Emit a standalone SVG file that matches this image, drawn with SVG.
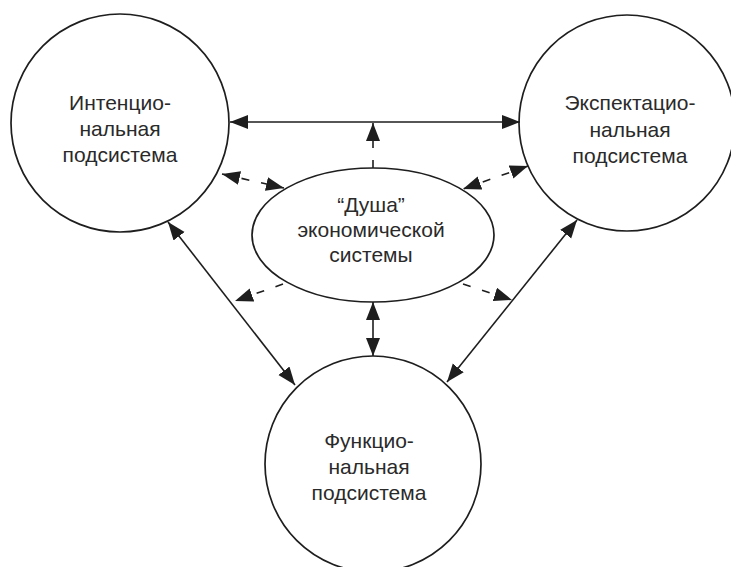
<svg xmlns="http://www.w3.org/2000/svg" width="731" height="567" viewBox="0 0 731 567">
<style>
.node{fill:#fff;stroke:#1e1e1e;stroke-width:1.7}
.lbl{font-family:"Liberation Sans",Arial,sans-serif;font-size:21px;fill:#2a2a2a;text-anchor:middle}
.conn{stroke:#1e1e1e;stroke-width:1.6;fill:none}
.dash{stroke-dasharray:8 12}
</style>
<defs>
<marker id="ah" markerUnits="userSpaceOnUse" markerWidth="19" markerHeight="15" refX="18" refY="7" orient="auto-start-reverse" viewBox="0 0 19 15">
<path d="M0,0 L18,7 L0,14 z" fill="#1e1e1e"/>
</marker>
</defs>
<rect width="731" height="567" fill="#fff"/>
<g id="intent">
<circle class="node" cx="120" cy="123" r="109"/>
<text class="lbl" x="120" y="110">Интенцио-</text>
<text class="lbl" x="120" y="136">нальная</text>
<text class="lbl" x="120" y="162">подсистема</text>
</g>
<g id="expect">
<circle class="node" cx="627" cy="123" r="108"/>
<text class="lbl" x="630" y="110">Экспектацио-</text>
<text class="lbl" x="630" y="137">нальная</text>
<text class="lbl" x="630" y="163">подсистема</text>
</g>
<g id="func">
<circle class="node" cx="373" cy="464" r="108"/>
<text class="lbl" x="369" y="448">Функцио-</text>
<text class="lbl" x="369" y="474">нальная</text>
<text class="lbl" x="369" y="500">подсистема</text>
</g>
<g id="soul">
<ellipse class="node" cx="373" cy="235" rx="121" ry="67"/>
<text class="lbl" x="371" y="212">“Душа”</text>
<text class="lbl" x="371" y="237">экономической</text>
<text class="lbl" x="371" y="262">системы</text>
</g>
<g id="connectors">
<line class="conn" x1="230" y1="122" x2="520" y2="122" marker-start="url(#ah)" marker-end="url(#ah)"/>
<line class="conn" x1="168" y1="222" x2="295" y2="385" marker-start="url(#ah)" marker-end="url(#ah)"/>
<line class="conn" x1="577" y1="220" x2="447" y2="382" marker-start="url(#ah)" marker-end="url(#ah)"/>
<line class="conn" x1="373" y1="302" x2="373" y2="356" marker-start="url(#ah)" marker-end="url(#ah)"/>
<line class="conn dash" x1="373" y1="168" x2="373" y2="123" marker-end="url(#ah)"/>
<line class="conn dash" x1="222" y1="174" x2="284" y2="188" marker-start="url(#ah)" marker-end="url(#ah)"/>
<line class="conn dash" x1="528" y1="166" x2="463" y2="189" marker-start="url(#ah)" marker-end="url(#ah)"/>
<line class="conn dash" x1="283" y1="284" x2="235" y2="301" marker-end="url(#ah)"/>
<line class="conn dash" x1="463" y1="284" x2="512" y2="300" marker-end="url(#ah)"/>
</g>
</svg>
